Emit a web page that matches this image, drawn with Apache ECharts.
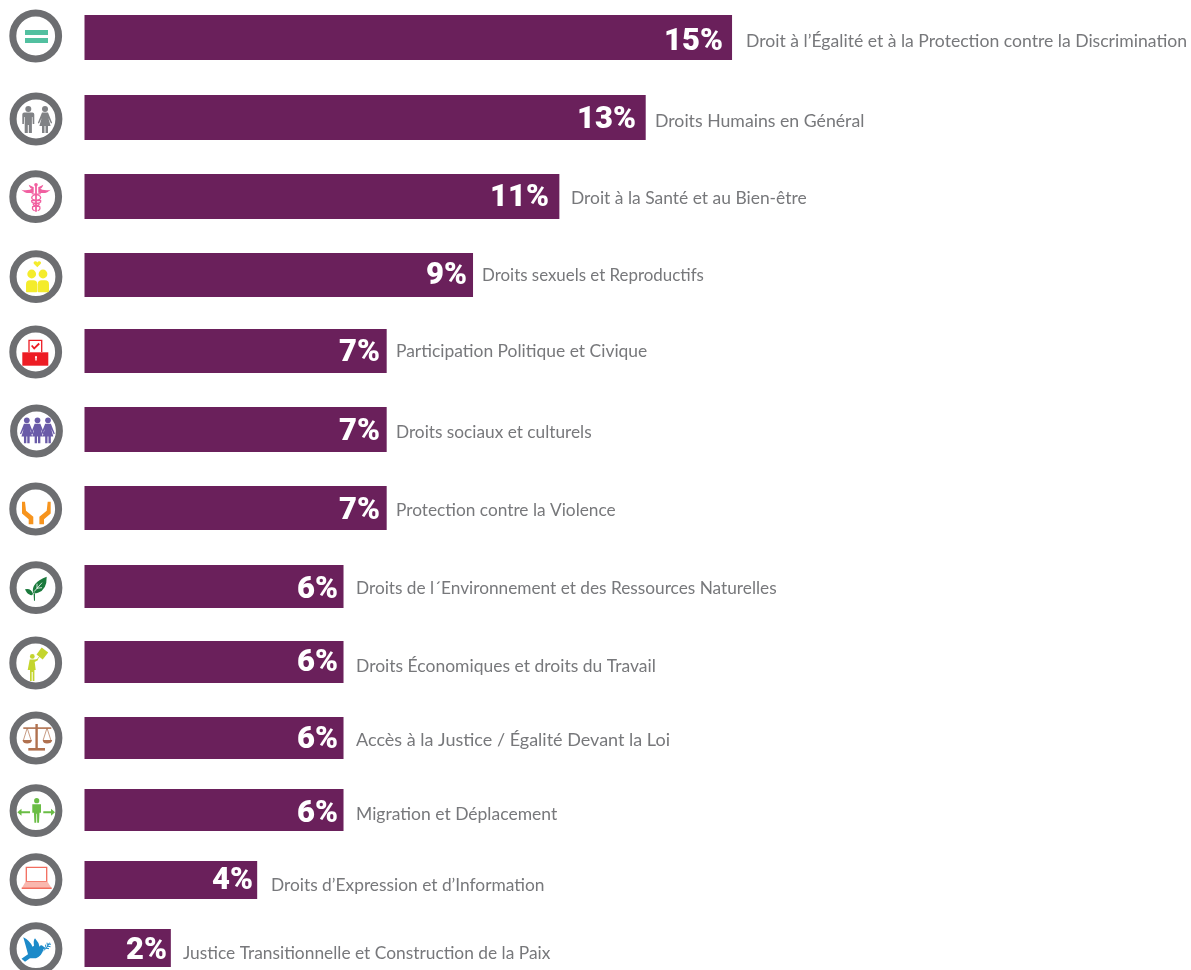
<!DOCTYPE html>
<html>
<head>
<meta charset="utf-8">
<style>html,body{margin:0;padding:0;background:#fff}#chart{width:1191px;height:970px}</style>
<script src="https://cdn.jsdelivr.net/npm/echarts@6/dist/echarts.min.js"></script>
</head>
<body>
<div id="chart"></div>
<script>
// Human-rights themes and their share of the total, in percent
const categories = [
  "Droit à l’Égalité et à la Protection contre la Discrimination",
  "Droits Humains en Général",
  "Droit à la Santé et au Bien-être",
  "Droits sexuels et Reproductifs",
  "Participation Politique et Civique",
  "Droits sociaux et culturels",
  "Protection contre la Violence",
  "Droits de l´Environnement et des Ressources Naturelles",
  "Droits Économiques et droits du Travail",
  "Accès à la Justice / Égalité Devant la Loi",
  "Migration et Déplacement",
  "Droits d’Expression et d’Information",
  "Justice Transitionnelle et Construction de la Paix"
];
const values = [15, 13, 11, 9, 7, 7, 7, 6, 6, 6, 6, 4, 2];

// Each row is its own grid: [top, height] of the bar band
const rowBands = [[15,45],[95,45],[174,45],[253,44],[329,44],[407,45],[486,44],[565,43],[641,42],[717,42],[789,42],[861,38],[929,38]];
// Label placement per row: [name dx, name dy, percent inset, percent dy]
const labelTweaks = [
  [14,4,9,4.7],[9.3,4,9.7,2.7],[11.6,2,10.4,1.7],[9,0.5,6,1.7],[9.3,0.5,6.7,2.2],[9.3,3,6.7,2.7],[9.3,2.5,6.7,3.7],
  [12.5,2,5.5,3.7],[12.5,4.5,5.5,1.2],[12.5,2.5,5.5,2.2],[12.5,4.5,5.5,4.2],[13.8,5.5,4.2,1.2],[12.2,5.5,3.8,3.2]
];
// Name label size per row, fitted to each line's run length
const nameSizes = [17.6,17.7,17.45,16.9,17.45,17.25,17.3,17.25,17.5,18,17.5,17.35,17.35];
// Ring centres beside each row
const ringCentres = [[35.7,36],[36,119],[35.7,196.7],[36,276.7],[35.7,352],[36.5,431],[35.7,509],[36,587.7],[35.7,663],[36,738],[36,810.7],[36,879.7],[36,948.7]];

const barColor = '#6a205b';
const textColor = '#77787b';
const ringColor = '#6d6e71';
const X_ORIGIN = 84.5, X_UNIT = 43.17, X_MAX = 16;

// Small drawing helpers for the pictograms, in coordinates relative to the ring centre.
// The graphic component has no generic path element, so each outline is registered as a shape.
let shapeCount = 0;
function pathShape(d, style) {
  const name = 'pictogramPath' + (shapeCount++);
  echarts.graphic.registerShape(name, echarts.graphic.extendPath(d, {}));
  return { type: name, style };
}
const fill = (d, color) => pathShape(d, { fill: color });
const line = (d, color, w) => pathShape(d, { fill: 'none', stroke: color, lineWidth: w });
const disc = (x, y, r, color) => ({ type: 'circle', shape: { cx: x, cy: y, r }, style: { fill: color } });
const box = (x, y, w, h, color, r) => ({ type: 'rect', shape: { x, y, width: w, height: h, r: r || 0 }, style: { fill: color } });

function man(x, y, s, c) { // y is the top of the head
  const p = (a, b) => (x + a * s) + ' ' + (y + b * s);
  return [disc(x, y + 3 * s, 3 * s, c),
    fill(`M${p(-6,8.5)} Q${p(-6,6.5)} ${p(-4,6.5)} L${p(4,6.5)} Q${p(6,6.5)} ${p(6,8.5)} L${p(6,18)} L${p(4.4,18)} L${p(4.2,11)} L${p(3.6,11)} L${p(3.6,27)} L${p(0.5,27)} L${p(0.5,19)} L${p(-0.5,19)} L${p(-0.5,27)} L${p(-3.6,27)} L${p(-3.6,11)} L${p(-4.2,11)} L${p(-4.4,18)} L${p(-6,18)} Z`, c)];
}
function woman(x, y, s, c) {
  const p = (a, b) => (x + a * s) + ' ' + (y + b * s);
  return [disc(x, y + 3 * s, 3 * s, c),
    fill(`M${p(-3,6.5)} L${p(3,6.5)} L${p(7.2,17)} L${p(6,17.6)} L${p(3.4,12)} L${p(5.6,20)} L${p(3,20)} L${p(3,27)} L${p(0.5,27)} L${p(0.5,20)} L${p(-0.5,20)} L${p(-0.5,27)} L${p(-3,27)} L${p(-3,20)} L${p(-5.6,20)} L${p(-3.4,12)} L${p(-6,17.6)} L${p(-7.2,17)} Z`, c)];
}

const pictograms = [
  // equality
  [box(-10.7,-6,23,5,'#52c0a0'), box(-10.7,2,23,5,'#52c0a0')],
  // man and woman
  [...man(-7.7,-13,1,'#808285'), ...woman(9,-13,1,'#808285')],
  // caduceus
  [fill('M-14.4,-7 Q-8,-5 -2,-9 L-2,-4 Q-8,-3 -11,-4.5 Z M15,-7 Q8.6,-5 2.6,-9 L2.6,-4 Q8.6,-3 11.6,-4.5 Z M-7,-12 L-2,-9.5 L-2,-7 Q-6,-8 -7,-12 Z M7.6,-12 L2.6,-9.5 L2.6,-7 Q6.6,-8 7.6,-12 Z','#f15fa0'),
   disc(0.3,-12,1.8,'#f15fa0'), box(-0.6,-12,1.8,27,'#f15fa0'),
   line('M-4,-3 Q5,-2 5,1 Q5,4 -4,4 Q-5,7 3,7 Q5,9 -3,10 Q-4,13 -1,14 M5,-3 Q-4,-2 -4,1 Q-4,4 5,4 Q6,7 -2,7 Q-4,9 4,10 Q5,13 2,14','#f15fa0',1.3)],
  // couple with a heart
  [fill('M1.3,-9.5 L-2.2,-13 Q-3,-15.5 -0.6,-15.5 Q0.8,-15.5 1.3,-14.3 Q1.8,-15.5 3.2,-15.5 Q5.6,-15.5 4.8,-13 Z','#f4ec2c'),
   disc(-4.3,-2.7,4.4,'#f4ec2c'), disc(7,-2.7,4.4,'#f4ec2c'), box(-10,3.5,11.3,12,'#f4ec2c',[4,4,1,1]), box(1.7,3.5,11.3,12,'#f4ec2c',[4,4,1,1])],
  // ballot box
  [line('M-6.7,0 L-6.7,-11.6 L6,-11.6 L6,0','#ed1c24',1.3),
   line('M-4,-6.5 L-1.5,-3.5 L3.5,-8.5','#ed1c24',1.8),
   box(-13.4,0.3,26,13.4,'#ed1c24'), box(-0.4,5,1.4,3.5,'#ffffff'), disc(0.3,5,1,'#ffffff')],
  // three people holding hands
  [...woman(-9.7,-13.5,0.95,'#6a5ba8'), ...woman(1,-13.5,0.95,'#6a5ba8'), ...woman(11.5,-13.5,0.95,'#6a5ba8')],
  // protecting hands
  [fill('M-13.7,-7.3 L-10.7,-7.3 L-9.7,1.7 L-2.4,7.7 L-2.4,15.3 L-7,15.3 L-7,10.3 L-13.7,4.5 Z M15,-7.3 L12,-7.3 L11,1.7 L3.7,7.7 L3.7,15.3 L8.3,15.3 L8.3,10.3 L15,4.5 Z','#f7941d')],
  // seedling
  [fill('M10.7,-11 Q11,2 2,5 Q-2,6 -3,5 Q-5,-5 10.7,-11 Z M-11,1.5 Q-5,0 -3,6 Q-4,9 -7,6.5 Q-9,6 -11,1.5 Z M-2.5,5 L-2,13 L-1,13 L-1,5 Z','#1b7a3d'),
   line('M-2,4 L6,-5 M1,1 L1,-4 M1,0.5 L6,0','#ffffff',0.8)],
  // person with a placard
  [disc(-3.4,-6.6,2.4,'#c4d52e'), fill('M-6,-3.5 L-1,-3.5 L2,-4 L2.5,-3 L-1,-1 L0,7 L-1.3,7 L-1.3,18 L-3,18 L-3,9 L-4,9 L-4,18 L-5.7,18 L-5.7,7 L-8,7 Z','#c4d52e'),
   line('M1,-3 L5,-8','#c4d52e',0.9), fill('M6,-15.5 L12.5,-10.5 L7,-3.5 L0.8,-8.5 Z','#c4d52e')],
  // scales of justice
  [box(-0.6,-14,2.4,26,'#b0714f'), box(-7.7,10,16.7,2.6,'#b0714f'), box(-12.7,-10.7,28,1.6,'#b0714f'),
   line('M-8.8,-10 L-12.5,2 M-8.8,-10 L-5,2 M11,-10 L7.2,2 M11,-10 L14.8,2','#b0714f',0.7),
   fill('M-13.5,2 L-4,2 Q-4.5,5.5 -8.8,5.5 Q-13,5.5 -13.5,2 Z M6.7,2 L16.2,2 Q15.7,5.5 11,5.5 Q7,5.5 6.7,2 Z','#b0714f')],
  // person and two arrows
  [disc(0.7,-10,2.6,'#6abd45'), fill('M-3.7,-6.5 L5,-6.5 L5,2 L3.5,2 L3,12 L1.2,12 L1,3 L0.4,3 L0.2,12 L-1.6,12 L-2.1,2 L-3.7,2 Z','#6abd45'),
   fill('M-18.7,1.5 L-14.5,-2 L-14.5,0.6 L-6,0.6 L-6,2.6 L-14.5,2.6 L-14.5,5 Z M19,1.5 L15,-2 L15,0.6 L7.3,0.6 L7.3,2.6 L15,2.6 L15,5 Z','#6abd45')],
  // laptop
  [line('M-9.7,2 L-9.7,-12.3 L10.7,-12.3 L10.7,2 Z','#f26c5e',1.3),
   fill('M-10.5,2 L11.5,2 L15.7,8.5 L-14.3,8.5 Z','#f9b7ae'), box(-14.3,7.8,30,1.5,'#f26c5e')],
  // dove and olive branch
  [fill('M-12.7,-11.4 Q-6,-8 -3.5,-2 L-2,-3 Q-3,-8 -1,-10.4 Q3,-6 3.5,-2 Q5,-4.5 7,-2.5 L10,-0.5 L7.5,0.5 Q6,7 0,9.5 L-6,9.5 L-11,13 L-14.5,10 L-8,5.5 Q-10,-2 -12.7,-11.4 Z','#1c8ac9'),
   line('M7.5,2 Q11,0 13.5,-6 M10,-0.5 L13,0 M11.5,-2.5 L14.5,-2 M12.5,-4.5 L15,-4.5 M10,-1 L9.5,-4 M11.5,-3 L11,-6','#1c8ac9',1)]
];

const rings = ringCentres.map(([x, y], i) => ({
  type: 'group', x, y,
  children: [
    { type: 'circle', shape: { cx: 0, cy: 0, r: 22.9 }, style: { fill: '#fff', stroke: ringColor, lineWidth: 7 } },
    ...pictograms[i]
  ]
}));

const grid = [], xAxis = [], yAxis = [], series = [];
values.forEach((v, i) => {
  const [top, height] = rowBands[i];
  const [nameDx, nameDy, pctInset, pctDy] = labelTweaks[i];
  grid.push({ left: X_ORIGIN, top, width: X_UNIT * X_MAX, height });
  xAxis.push({ gridIndex: i, type: 'value', min: 0, max: X_MAX, show: false });
  yAxis.push({ gridIndex: i, type: 'category', data: [categories[i]], show: false });
  // Bar with its percentage inside the end
  series.push({
    type: 'bar', xAxisIndex: i, yAxisIndex: i, barWidth: '100%', barGap: '-100%', silent: true,
    data: [v], itemStyle: { color: barColor },
    label: { show: true, position: 'insideRight', distance: pctInset, offset: [0, pctDy], formatter: '{c}%',
      color: '#fff', fontFamily: 'Roboto', fontWeight: 900, fontSize: 31 }
  });
  // Same value again, unfilled, carrying the theme name past the end
  series.push({
    type: 'bar', xAxisIndex: i, yAxisIndex: i, barWidth: '100%', barGap: '-100%', silent: true,
    data: [v], itemStyle: { color: 'transparent' },
    label: { show: true, position: 'right', distance: 0, offset: [nameDx, nameDy], formatter: '{b}',
      color: textColor, fontFamily: 'Lato', fontSize: nameSizes[i] }
  });
});

const chart = echarts.init(document.getElementById('chart'), null, { renderer: 'canvas' });
chart.setOption({
  animation: false, backgroundColor: '#fff',
  grid, xAxis, yAxis, series,
  graphic: { elements: rings }
});
</script>
</body>
</html>
